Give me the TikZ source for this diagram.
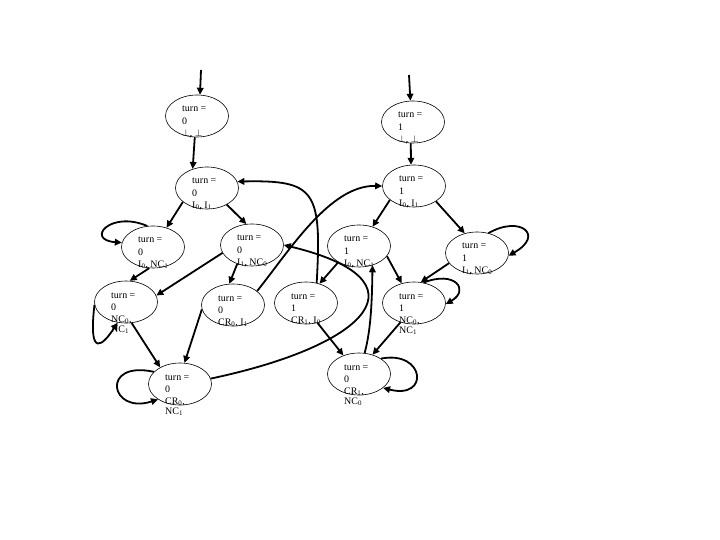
\documentclass[tikz,border=0pt]{standalone}
\usepackage{fontspec}
\setmainfont{Liberation Serif}
\usetikzlibrary{arrows.meta,shapes.geometric}
\tikzset{
 st/.style={ellipse,draw,line width=0.6bp,minimum width=63bp,minimum height=42bp,inner sep=0pt},
 lbl/.style={inner sep=0pt,anchor=base west,font=\fontsize{10}{12}\selectfont},
 arr/.style={line width=1.8bp,-{Triangle[length=7bp,width=6.5bp]}},
}
\newcommand\stt[5]{%
 \node[st] (#1) at (#2,#3) {};
 \node[lbl] (#1a) at ({#2-15},{#3-4}) {turn =};
 \node[lbl] (#1b) at ({#2-15},{#3+8.5}) {#4};
 \node[lbl] (#1c) at ({#2-15},{#3+20.5}) {#5};
}
\newcommand\sbs[1]{\textsubscript{#1}}
\begin{document}
\begin{tikzpicture}[x=1bp,y=-1bp]
\useasboundingbox (0,0) rectangle (720,540);
\stt{A}{197}{116}{0}{$\perp$, $\perp$}
\stt{B}{413}{122}{1}{$\perp$, $\perp$}
\stt{C}{207}{188}{0}{I\sbs{0}, I\sbs{1}}
\stt{D}{414}{186}{1}{I\sbs{0}, I\sbs{1}}
\stt{E}{153}{247}{0}{I\sbs{0}, NC\sbs{1}}
\stt{F}{252}{245}{0}{I\sbs{1}, NC\sbs{0}}
\stt{G}{359}{246}{1}{I\sbs{0}, NC\sbs{1}}
\stt{H}{477}{253}{1}{I\sbs{1}, NC\sbs{0}}
\stt{I}{126}{302}{0}{NC\sbs{0},}
\node[lbl] (Id) at (111,332) {NC\sbs{1}};
\stt{J}{233}{305}{0}{CR\sbs{0}, I\sbs{1}}
\stt{K}{306}{303}{1}{CR\sbs{1}, I\sbs{0}}
\stt{L}{414}{303}{1}{NC\sbs{0},}
\node[lbl] (Ld) at (399,333) {NC\sbs{1}};
\stt{M}{180}{384}{0}{CR\sbs{0},}
\node[lbl] (Md) at (165,414) {NC\sbs{1}};
\stt{N}{359}{374}{0}{CR\sbs{1},}
\node[lbl] (Nd) at (344,404) {NC\sbs{0}};
\coordinate (inA) at (201,70);
\coordinate (inB) at (409,75);
\draw[arr] (inA) -- (A.82);
\draw[arr] (inB) -- (B.97);
\draw[arr] (A.-96) -- (C.127);
\draw[arr] (B.-96) -- (D.98);
\draw[arr] (C.-150) -- (E.55);
\draw[arr] (C.-40) -- (F.105);
\draw[arr] (D.-150) -- (G.55);
\draw[arr] (D.-35) -- (H.122);
\draw[arr] (E.105) .. controls (110,210) and (85,240) .. (E.172);
\draw[arr] (E.-100) -- (I.80);
\draw[arr] (F.-165) -- (I.12);
\draw[arr] (F.-128) -- (J.100);
\draw[arr] (J.-172) -- (M.78);
\draw[arr] (I.-75) -- (M.140);
\draw[arr] (I.-175) .. controls (88,360) and (103,345) .. (I.-112);
\draw[arr] (M.155) .. controls (100,360) and (110,415) .. (M.-145);
\draw[arr] (M.10) .. controls (370,345) and (430,280) .. (F.0);
\draw[arr] (K.62) .. controls (322,190) and (315,180) .. (C.12);
\draw[arr] (J.30) .. controls (290,250) and (330,185) .. (D.180);
\draw[arr] (K.-60) -- (N.130);
\draw[arr] (G.-142) -- (K.55);
\draw[arr] (G.-20) -- (L.122);
\draw[arr] (N.75) .. controls (371,330) and (372,300) .. (G.-55);
\draw[arr] (L.-125) -- (N.55);
\draw[arr] (H.-160) -- (L.72);
\draw[arr] (H.60) .. controls (520,215) and (545,235) .. (H.-5);
\draw[arr] (L.65) .. controls (455,270) and (470,290) .. (L.-2);
\draw[arr] (N.35) .. controls (425,350) and (430,400) .. (N.-30);
\end{tikzpicture}
\end{document}
